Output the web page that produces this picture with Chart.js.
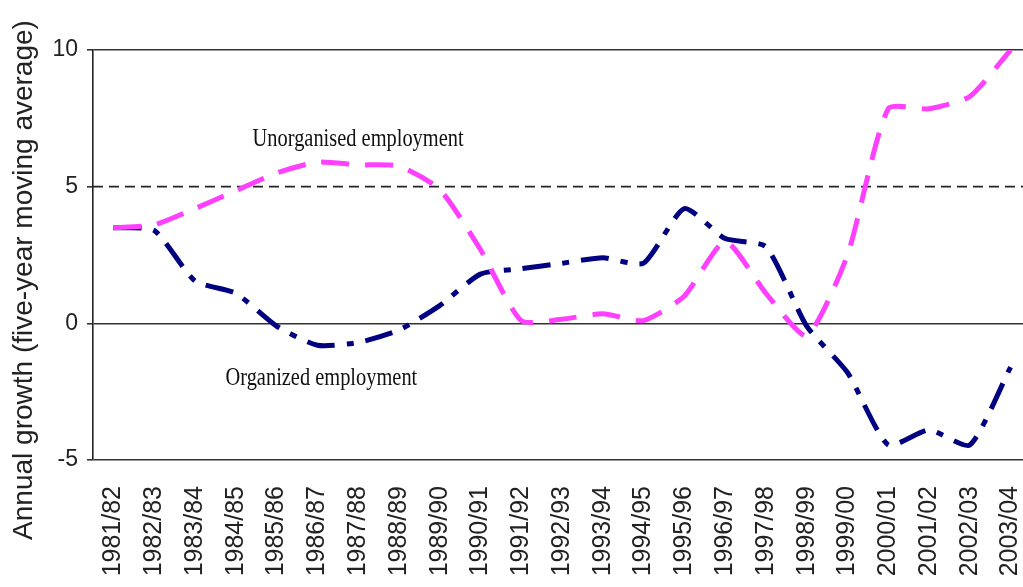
<!DOCTYPE html>
<html>
<head>
<meta charset="utf-8">
<script src="https://cdn.jsdelivr.net/npm/chart.js@4"></script>
<style>
  html, body { margin: 0; padding: 0; background: #fff; overflow: hidden; }
  #wrap { width: 1031px; height: 587px; }
</style>
</head>
<body>
<div id="wrap"><canvas id="myChart"></canvas></div>
<script>
// data
const years = ["1981/82", "1982/83", "1983/84", "1984/85", "1985/86", "1986/87", "1987/88",
  "1988/89", "1989/90", "1990/91", "1991/92", "1992/93", "1993/94", "1994/95", "1995/96",
  "1996/97", "1997/98", "1998/99", "1999/00", "2000/01", "2001/02", "2002/03", "2003/04"];

const unorganised = [3.5, 3.6, 4.2, 4.85, 5.5, 5.9, 5.8, 5.75, 4.9, 2.7, 0.1, 0.15, 0.35, 0.1,
  1.0, 3.0, 1.1, -0.45, 2.5, 7.85, 7.85, 8.3, 10];

const organized = [3.5, 3.4, 1.55, 1.1, -0.1, -0.8, -0.7, -0.25, 0.65, 1.8, 2.0, 2.2, 2.4, 2.2,
  4.2, 3.1, 2.8, -0.1, -1.8, -4.45, -3.9, -4.45, -1.6];

const yTicks = [-5, 0, 5, 10];

const labelUnorg = "Unorganised employment";
const labelOrg = "Organized employment";
const yTitle = "Annual growth (five-year moving average)";

// dashed line at 5, y title and the two text labels
const extras = {
  id: "extras",
  beforeDatasetsDraw(chart) {
    const ctx = chart.ctx;
    const y = chart.scales.y.getPixelForValue(5);
    ctx.save();
    ctx.strokeStyle = "#222";
    ctx.lineWidth = 1.6;
    ctx.setLineDash([10, 6]);
    ctx.beginPath();
    ctx.moveTo(chart.chartArea.left, y);
    ctx.lineTo(chart.chartArea.right, y);
    ctx.stroke();
    ctx.restore();
  },
  afterDatasetsDraw(chart) {
    const ctx = chart.ctx;
    const xs = chart.scales.x, ys = chart.scales.y;
    const put = (txt, xi, yv) => {
      const px = xs.getPixelForValue(xi);
      const py = ys.getPixelForValue(yv);
      ctx.save();
      ctx.font = "26px 'Liberation Serif', 'Times New Roman', serif";
      ctx.fillStyle = "#111";
      ctx.textAlign = "center";
      ctx.textBaseline = "alphabetic";
      ctx.translate(px, py);
      ctx.scale(0.785, 1);
      ctx.fillText(txt, 0, 0);
      ctx.restore();
    };
    put(labelUnorg, 6.0, 6.5);
    put(labelOrg, 5.1, -2.26);

    // axis title, a bit lower than the plot centre like in the original
    ctx.save();
    ctx.font = "28px 'Liberation Sans', Arial, sans-serif";
    ctx.fillStyle = "#222";
    ctx.textAlign = "center";
    ctx.textBaseline = "middle";
    ctx.translate(24, 280);
    ctx.rotate(-Math.PI / 2);
    ctx.fillText(yTitle, 0, 0);
    ctx.restore();
  }
};

const data = {
  labels: years,
  datasets: [
    {
      label: labelUnorg,
      data: unorganised,
      borderColor: "#ff40ff",
      borderWidth: 5,
      borderDash: [28, 16],
      pointRadius: 0,
      tension: 0.2,
      fill: false
    },
    {
      label: labelOrg,
      data: organized,
      borderColor: "#000080",
      borderWidth: 5,
      borderDash: [28, 12, 7, 12],
      pointRadius: 0,
      tension: 0.2,
      fill: false
    }
  ]
};

const config = {
  type: "line",
  data,
  options: {
    responsive: true,
    maintainAspectRatio: false,
    animation: false,
    layout: { padding: { top: 50, left: 0, right: 0, bottom: 0 } },
    plugins: {
      legend: { display: false },
      tooltip: { enabled: false }
    },
    scales: {
      x: {
        offset: true,
        grid: { display: false, drawTicks: false },
        border: { display: false },
        ticks: {
          autoSkip: false,
          maxRotation: 90,
          minRotation: 90,
          padding: 26,
          color: "#222",
          font: { family: "'Liberation Sans', Arial, sans-serif", size: 25 }
        },
        afterFit: (scale) => {
          scale.height = 127;
          scale.paddingLeft = 0;
          scale.paddingRight = 0;
        }
      },
      y: {
        min: -5,
        max: 10,
        afterBuildTicks: (scale) => { scale.ticks = yTicks.map((v) => ({ value: v })); },
        grid: {
          color: (c) => (c.tick && c.tick.value === 5 ? "rgba(0,0,0,0)" : "#333"),
          lineWidth: 1.6,
          tickColor: "#333",
          tickLength: 6
        },
        border: { display: true, color: "#222", width: 1.6 },
        ticks: {
          padding: 9,
          color: "#222",
          font: { family: "'Liberation Sans', Arial, sans-serif", size: 23 }
        },
        afterFit: (scale) => {
          scale.width = 93;
          scale.paddingTop = 0;
          scale.paddingBottom = 0;
        }
      }
    }
  },
  plugins: [extras]
};

const myChart = new Chart(document.getElementById("myChart"), config);
</script>
</body>
</html>
